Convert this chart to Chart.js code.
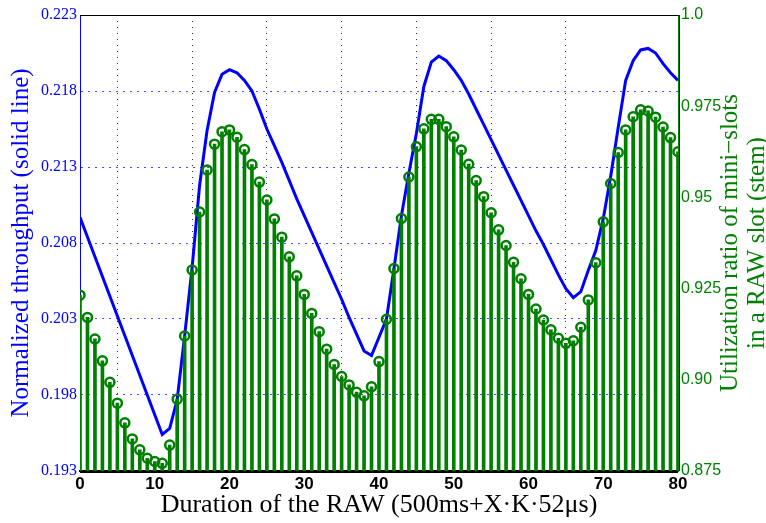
<!DOCTYPE html>
<html>
<head>
<meta charset="utf-8">
<script src="https://cdn.jsdelivr.net/npm/chart.js@4.4.0/dist/chart.umd.min.js"></script>
<style>
  html, body { margin: 0; padding: 0; background: #fff; }
  #wrap { width: 766px; height: 523px; position: relative; }
</style>
</head>
<body>
<div id="wrap"><canvas id="chart"></canvas></div>
<script>
// RAW duration steps (X)
const rawDurations = Array.from({ length: 81 }, (_, i) => i);

// normalized throughput, left axis (solid line)
const throughput = [
  0.2097, 0.2084, 0.2071, 0.2058, 0.2045, 0.2032, 0.2019, 0.2006, 0.1993, 0.1980,
  0.1967, 0.1954, 0.1958, 0.1977, 0.2019, 0.2064, 0.2118, 0.2154, 0.2179, 0.2191,
  0.2194, 0.2192, 0.2187, 0.2180, 0.2168, 0.2155, 0.2144, 0.2133, 0.2121, 0.2109,
  0.2098, 0.2087, 0.2076, 0.2065, 0.2054, 0.2043, 0.2031, 0.2020, 0.2009, 0.2006,
  0.2018, 0.2030, 0.2063, 0.2098, 0.2126, 0.2152, 0.2183, 0.2199, 0.2203, 0.2200,
  0.2194, 0.2187, 0.2178, 0.2168, 0.2158, 0.2148, 0.2138, 0.2128, 0.2118, 0.2108,
  0.2098, 0.2088, 0.2079, 0.2069, 0.2059, 0.2050, 0.2044, 0.2048, 0.2062, 0.2075,
  0.2096, 0.2124, 0.2156, 0.2187, 0.2200, 0.2207, 0.2208, 0.2205, 0.2198, 0.2192,
  0.2187
];

// utilization ratio of mini-slots, right axis (stem)
const utilization = [
  0.9232, 0.9171, 0.9112, 0.9052, 0.8993, 0.8936, 0.8882, 0.8838, 0.8808, 0.8785,
  0.8776, 0.8771, 0.8821, 0.8947, 0.9120, 0.9301, 0.9460, 0.9575, 0.9646, 0.9680,
  0.9685, 0.9665, 0.9631, 0.9590, 0.9542, 0.9493, 0.9441, 0.9391, 0.9337, 0.9285,
  0.9234, 0.9182, 0.9132, 0.9084, 0.9042, 0.9009, 0.8986, 0.8966, 0.8956, 0.8981,
  0.9050, 0.9166, 0.9305, 0.9442, 0.9556, 0.9639, 0.9688, 0.9714, 0.9714, 0.9694,
  0.9666, 0.9630, 0.9591, 0.9546, 0.9502, 0.9458, 0.9411, 0.9368, 0.9322, 0.9277,
  0.9234, 0.9194, 0.9164, 0.9137, 0.9114, 0.9100, 0.9107, 0.9144, 0.9219, 0.9321,
  0.9433, 0.9538, 0.9623, 0.9685, 0.9721, 0.9740, 0.9737, 0.9720, 0.9693, 0.9664,
  0.9625
];

const durationTicks = ['0', '10', '20', '30', '40', '50', '60', '70', '80'];
const throughputTicks = ['0.193', '0.198', '0.203', '0.208', '0.213', '0.218', '0.223'];
const utilizationTicks = ['0.875', '0.90', '0.925', '0.95', '0.975', '1.0'];

const BLUE = '#0000ff';
const GREEN = '#008000';
const SERIF = "'Liberation Serif', 'Times New Roman', serif";

const points = vals => vals.map((v, i) => ({ x: rawDurations[i], y: v }));

// box top border, right blue spine, bottom axis over the stems, right title
const framePlugin = {
  id: 'frame',
  afterDatasetsDraw(chart) {
    const { ctx, chartArea: a } = chart;
    ctx.save();
    ctx.setLineDash([]);
    ctx.lineWidth = 1;
    ctx.strokeStyle = '#000';
    ctx.beginPath();
    ctx.moveTo(a.left, a.top + 0.5);
    ctx.lineTo(a.right, a.top + 0.5);
    ctx.stroke();
    ctx.strokeStyle = BLUE;
    ctx.beginPath();
    ctx.moveTo(a.right + 1.5, a.top);
    ctx.lineTo(a.right + 1.5, a.bottom);
    ctx.stroke();
    ctx.lineWidth = 2;
    ctx.strokeStyle = '#000';
    ctx.beginPath();
    ctx.moveTo(a.left, a.bottom + 1);
    ctx.lineTo(a.right, a.bottom + 1);
    ctx.stroke();
    ctx.restore();
  },
  afterDraw(chart) {
    const { ctx, chartArea: a } = chart;
    ctx.save();
    ctx.fillStyle = GREEN;
    ctx.font = '25px ' + SERIF;
    ctx.textAlign = 'center';
    ctx.textBaseline = 'middle';
    ctx.translate(730, (a.top + a.bottom) / 2);
    ctx.rotate(-Math.PI / 2);
    ctx.fillText('Utilization ratio of mini\u2212slots', 0, 0);
    ctx.fillText('in a RAW slot (stem)', 0, 27);
    ctx.restore();
  }
};

new Chart(document.getElementById('chart'), {
  type: 'bar',
  data: {
    datasets: [
      {
        type: 'line',
        data: points(utilization),
        yAxisID: 'y1',
        showLine: false,
        pointRadius: 4.5,
        pointBorderWidth: 2.5,
        pointBorderColor: GREEN,
        pointBackgroundColor: 'rgba(0,0,0,0)',
        order: 0
      },
      {
        type: 'bar',
        data: points(utilization),
        yAxisID: 'y1',
        backgroundColor: GREEN,
        borderWidth: 0,
        barThickness: 3,
        order: 1
      },
      {
        type: 'line',
        data: points(throughput),
        yAxisID: 'y',
        borderColor: BLUE,
        borderWidth: 3,
        pointRadius: 0,
        tension: 0,
        order: 2
      }
    ]
  },
  options: {
    responsive: true,
    maintainAspectRatio: false,
    animation: false,
    layout: { padding: { top: 15, left: 0, right: 0, bottom: 0 } },
    plugins: {
      legend: { display: false },
      tooltip: { enabled: false }
    },
    scales: {
      x: {
        type: 'linear',
        min: 0,
        max: 80,
        offset: false,
        afterFit: s => { s.height = 52; },
        ticks: {
          stepSize: 10,
          padding: 3,
          color: '#000',
          font: { family: "'Liberation Sans Narrow', 'Liberation Sans', sans-serif", size: 17, weight: 'bold' },
          callback: (v, i) => durationTicks[i]
        },
        grid: {
          drawTicks: false,
          lineWidth: 1,
          color: c => (c.index === 0 || c.index === 8) ? 'rgba(0,0,0,0)' : '#333'
        },
        border: { color: '#000', width: 2, dash: [1, 5] },
        title: {
          display: true,
          text: 'Duration of the RAW (500ms+X\u00b7K\u00b752\u03bcs)',
          color: '#000',
          font: { family: SERIF, size: 26 },
          padding: { top: 0, bottom: 2 }
        }
      },
      y: {
        position: 'left',
        min: 0.193,
        max: 0.223,
        afterFit: s => { s.width = 80; },
        ticks: {
          stepSize: 0.005,
          padding: 3,
          color: BLUE,
          font: { family: SERIF, size: 16 },
          callback: (v, i) => throughputTicks[i]
        },
        grid: {
          drawTicks: false,
          lineWidth: 1,
          color: c => (c.index === 0 || c.index === 6) ? 'rgba(0,0,0,0)' : 'rgba(40,40,255,0.85)'
        },
        border: { color: BLUE, width: 1, dash: [2, 5] },
        title: {
          display: true,
          text: 'Normalized throughput (solid line)',
          color: BLUE,
          font: { family: SERIF, size: 25 },
          padding: { top: 6, bottom: 0 }
        }
      },
      y1: {
        position: 'right',
        min: 0.875,
        max: 1.0,
        afterFit: s => { s.width = 88; },
        ticks: {
          stepSize: 0.025,
          padding: 3,
          color: GREEN,
          font: { family: "'Liberation Sans', Arial, sans-serif", size: 16 },
          callback: (v, i) => utilizationTicks[i]
        },
        grid: { drawTicks: false, drawOnChartArea: false },
        border: { color: GREEN, width: 1 }
      }
    }
  },
  plugins: [framePlugin]
});
</script>
</body>
</html>
